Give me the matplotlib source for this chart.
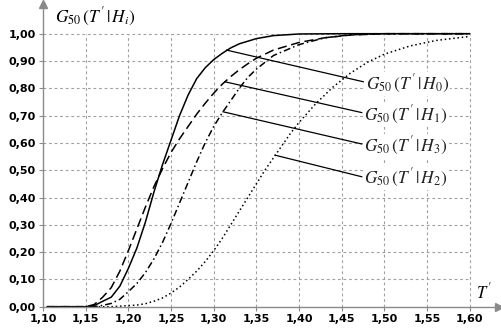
import matplotlib
matplotlib.use("Agg")
import matplotlib.pyplot as plt
from matplotlib.ticker import FuncFormatter

plt.rcParams['mathtext.fontset'] = 'stix'
plt.rcParams['font.family'] = ['DejaVu Sans']

# ---- data ----
x_h0 = [1.105, 1.15, 1.16, 1.17, 1.18, 1.19, 1.20, 1.21, 1.22, 1.23, 1.24, 1.25, 1.26, 1.27, 1.28,
        1.29, 1.30, 1.31, 1.32, 1.33, 1.35, 1.37, 1.40, 1.45, 1.60]
y_h0 = [0.0, 0.0, 0.004, 0.02, 0.035, 0.075, 0.14, 0.215, 0.31, 0.42, 0.52, 0.61, 0.70, 0.775, 0.835,
        0.875, 0.905, 0.928, 0.948, 0.963, 0.982, 0.993, 0.999, 1.0, 1.0]

x_h1 = [1.105, 1.15, 1.16, 1.17, 1.18, 1.19, 1.20, 1.21, 1.22, 1.23, 1.24, 1.25, 1.26, 1.27, 1.28,
        1.29, 1.30, 1.31, 1.32, 1.33, 1.34, 1.35, 1.37, 1.40, 1.43, 1.46, 1.50, 1.60]
y_h1 = [0.0, 0.0, 0.008, 0.035, 0.07, 0.13, 0.205, 0.285, 0.365, 0.44, 0.505, 0.565, 0.615, 0.66, 0.705,
        0.745, 0.782, 0.815, 0.843, 0.868, 0.89, 0.91, 0.94, 0.968, 0.985, 0.995, 1.0, 1.0]

x_h3 = [1.105, 1.16, 1.17, 1.18, 1.19, 1.20, 1.21, 1.22, 1.23, 1.24, 1.25, 1.26, 1.27, 1.28, 1.29,
        1.30, 1.31, 1.32, 1.33, 1.34, 1.35, 1.37, 1.40, 1.43, 1.46, 1.50, 1.60]
y_h3 = [0.0, 0.0, 0.005, 0.012, 0.027, 0.055, 0.085, 0.125, 0.175, 0.235, 0.305, 0.38, 0.455, 0.53, 0.60,
        0.66, 0.71, 0.755, 0.80, 0.84, 0.87, 0.92, 0.96, 0.985, 0.996, 1.0, 1.0]

x_h2 = [1.105, 1.18, 1.19, 1.20, 1.21, 1.22, 1.23, 1.24, 1.25, 1.26, 1.27, 1.28, 1.29, 1.30, 1.31,
        1.32, 1.33, 1.34, 1.35, 1.36, 1.37, 1.38, 1.39, 1.40, 1.42, 1.44, 1.46, 1.48, 1.50, 1.53,
        1.56, 1.60]
y_h2 = [0.0, 0.0, 0.002, 0.004, 0.006, 0.011, 0.02, 0.032, 0.05, 0.072, 0.10, 0.13, 0.165, 0.205, 0.25,
        0.30, 0.35, 0.40, 0.45, 0.50, 0.545, 0.59, 0.635, 0.675, 0.745, 0.805, 0.855, 0.895, 0.925, 0.955,
        0.975, 0.99]

x_ticks = [1.10, 1.15, 1.20, 1.25, 1.30, 1.35, 1.40, 1.45, 1.50, 1.55, 1.60]
y_ticks = [0.0, 0.1, 0.2, 0.3, 0.4, 0.5, 0.6, 0.7, 0.8, 0.9, 1.0]

labels = [r"$G_{50}\,(T'\,|\,H_0)$", r"$G_{50}\,(T'\,|\,H_1)$",
          r"$G_{50}\,(T'\,|\,H_3)$", r"$G_{50}\,(T'\,|\,H_2)$"]
# leader line start points on curves and end points near labels
lead_start = [(1.315, 0.94), (1.313, 0.824), (1.311, 0.714), (1.372, 0.555)]
lead_end = [(1.4753, 0.824), (1.4735, 0.711), (1.4735, 0.596), (1.4735, 0.476)]
label_y = [0.815, 0.702, 0.589, 0.471]

# ---- figure ----
W, H = 502, 332
fig = plt.figure(figsize=(W / 100, H / 100), dpi=100)
x0, x1 = 43, 499
y0, y1 = 306.7, 4
ax = fig.add_axes([x0 / W, 1 - y0 / H, (x1 - x0) / W, (y0 - y1) / H])
ppx = 853.4
ppy = 273.0
ax.set_xlim(1.10, 1.10 + (x1 - x0) / ppx)
ax.set_ylim(0, (y0 - y1) / ppy)

axis_col = '#8a8a8a'
for s in ['top', 'right']:
    ax.spines[s].set_visible(False)
for s in ['left', 'bottom']:
    ax.spines[s].set_color(axis_col)
    ax.spines[s].set_linewidth(1.0)
ax.plot([1], [0], marker='>', color=axis_col, markersize=6, transform=ax.transAxes, clip_on=False)
ax.plot([0], [1], marker='^', color=axis_col, markersize=6, transform=ax.transAxes, clip_on=False)

ax.set_xticks(x_ticks)
ax.set_yticks(y_ticks)
fmt = FuncFormatter(lambda v, p: f"{v:.2f}".replace('.', ','))
ax.xaxis.set_major_formatter(fmt)
ax.yaxis.set_major_formatter(fmt)
ax.tick_params(length=3, color=axis_col, labelsize=8, pad=2)
for t in ax.get_xticklabels() + ax.get_yticklabels():
    t.set_fontweight('bold')

grid_kw = dict(color='#a0a0a0', linewidth=0.8, linestyle=(0, (2.5, 2.5)), zorder=0)
for xv in x_ticks[1:]:
    ax.axvline(xv, ymax=y_ticks[-1] / ax.get_ylim()[1], **grid_kw)
for yv in y_ticks[1:]:
    ax.axhline(yv, xmax=(x_ticks[-1] - 1.10) / (ax.get_xlim()[1] - 1.10), **grid_kw)

lw = 1.1
ax.plot(x_h0, y_h0, color='black', lw=lw, linestyle='-')
ax.plot(x_h1, y_h1, color='black', lw=lw, linestyle=(0, (6, 3)))
ax.plot(x_h3, y_h3, color='black', lw=lw, linestyle=(0, (4.5, 2, 1, 2)))
ax.plot(x_h2, y_h2, color='black', lw=lw, linestyle=(0, (1, 1.8)))

for (sx, sy), (ex, ey), ly, lab in zip(lead_start, lead_end, label_y, labels):
    ax.plot([sx, ex], [sy, ey], color='black', lw=0.9)
    ax.text(ex + 0.003, ly, lab, fontsize=12.5, va='center', ha='left', color='#222222',
            bbox=dict(facecolor='white', edgecolor='none', pad=0.5))

fig.text(55 / W, 1 - 17 / H, r"$G_{50}\,(T'\,|\,H_i)$", fontsize=12.5, va='center', ha='left')
fig.text(476 / W, 1 - 292 / H, r"$T'$", fontsize=12, va='center', ha='left')

fig.savefig('out.png', dpi=100)
